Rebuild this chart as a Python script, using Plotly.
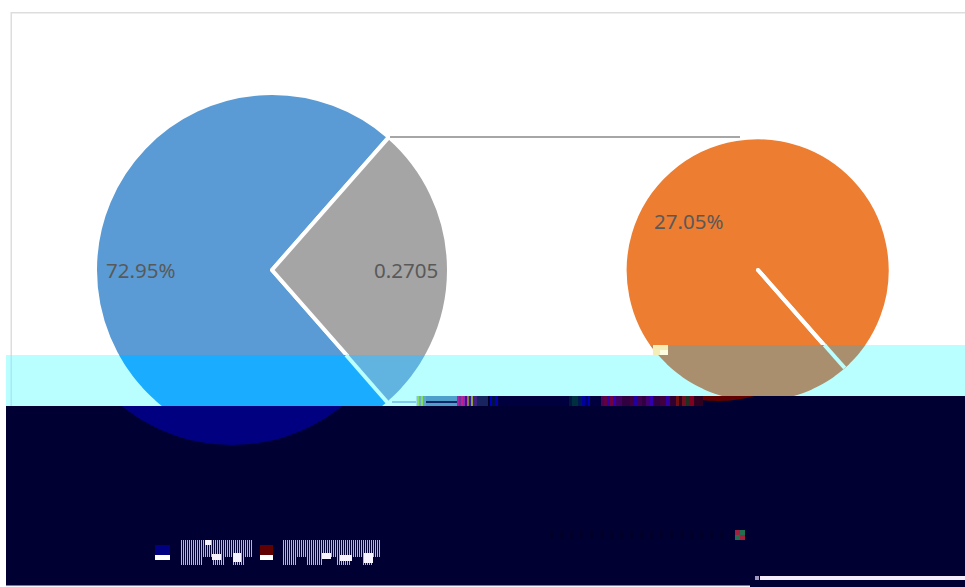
import math
import plotly.graph_objects as go

W, H = 965, 587

labels_main = ["Share A", "Share B"]
values_main = [72.95, 27.05]
labels_detail = ["Share B", "Remainder"]
values_detail = [27.05, 0.0005]
label_main_left = "72.95%"
label_main_right = "0.2705"
label_detail = "27.05%"

BLUE, GRAY, ORANGE = "#5B9BD5", "#A5A5A5", "#ED7D31"
ROTATION = 138.7

def X(x):
    return x / W

def Y(y):
    return 1 - y / H

def rect(x0, y0, x1, y1, color):
    return dict(type="rect", xref="paper", yref="paper", x0=X(x0), x1=X(x1), y0=Y(y0), y1=Y(y1),
                fillcolor=color, line_width=0, layer="above")

def line(x0, y0, x1, y1, color, w=1.5):
    return dict(type="line", xref="paper", yref="paper", x0=X(x0), x1=X(x1), y0=Y(y0), y1=Y(y1),
                line=dict(color=color, width=w), layer="above")

def outline(pts, color):
    path = "M " + " L ".join(f"{X(a):.5f},{Y(b):.5f}" for a, b in pts) + " Z"
    return dict(type="path", xref="paper", yref="paper", path=path, fillcolor=color, line_width=0, layer="above")

def segment(cx, cy, r, y0, y1, color, dx=0):
    """circle of the pie clipped to a horizontal band"""
    rows = [y0 + (y1 - y0) * i / 40 for i in range(41)]
    rows = [y for y in rows if abs(y - cy) <= r]
    left, right = [], []
    for y in rows:
        half = math.sqrt(r * r - (y - cy) ** 2)
        left.append((cx - half + dx, y))
        right.append((cx + half + dx, y))
    return outline(left + right[::-1], color)

def slice_seg(cx, cy, r, y0, y1, color, side):
    k = 115 / 132
    rows = [y0 + (y1 - y0) * i / 40 for i in range(41)]
    left, right = [], []
    for y in rows:
        if abs(y - cy) > r:
            continue
        half = math.sqrt(r * r - (y - cy) ** 2)
        b = cx + (y - cy) * k
        a0, a1 = (cx - half, min(b, cx + half)) if side == "l" else (max(b, cx - half), cx + half)
        if a1 > a0:
            left.append((a0, y))
            right.append((a1, y))
    return outline(left + right[::-1], color)

fig = go.Figure()
fig.add_trace(go.Pie(labels=labels_main, values=values_main, sort=False, direction="clockwise", rotation=ROTATION,
                     marker=dict(colors=[BLUE, GRAY], line=dict(color="white", width=4)), textinfo="none",
                     domain=dict(x=[X(95), X(449)], y=[Y(447), Y(93)]), showlegend=False, hoverinfo="skip"))
fig.add_trace(go.Pie(labels=labels_detail, values=values_detail, sort=False, direction="clockwise", rotation=ROTATION,
                     marker=dict(colors=[ORANGE, ORANGE], line=dict(color="white", width=4)), textinfo="none",
                     domain=dict(x=[X(625), X(891)], y=[Y(403), Y(137)]), showlegend=False, hoverinfo="skip"))

BAND = "#B9FFFF"
DARK = "#000033"
shapes = []
# card border
shapes.append(rect(11, 12, 965, 13.5, "#DDDDDD"))
shapes.append(rect(10.5, 12, 12, 355, "#DDDDDD"))
# connector
shapes.append(line(390, 137, 740, 137, "#A6A6A6", 2))
# cyan band
shapes.append(rect(6, 355, 653, 406, BAND))
shapes.append(rect(653, 345, 965, 396, BAND))
shapes.append(rect(10.5, 355, 12, 406, "#A8E8F8"))
# band pieces of pie 1
shapes.append(slice_seg(272, 270, 175, 355, 406, "#1AACFF", "l"))
shapes.append(slice_seg(272, 270, 175, 355, 406, "#62B4E0", "r"))
shapes.append(line(272 + 85 * 115 / 132, 355, 272 + 134 * 115 / 132, 404, BAND, 4))
# band pieces of pie 2
shapes.append(segment(758, 270, 131, 345, 396, "#AA8F6E"))
shapes.append(line(758 + 75 * 0.885, 345, 758 + 98 * 0.885, 368, BAND, 4))
shapes.append(line(392, 402, 418, 402, "#6FB8E8", 1.5))
# dark block
shapes.append(rect(6, 406, 965, 587, DARK))
shapes.append(rect(416, 396, 965, 406, DARK))
# displaced pie parts
shapes.append(segment(758, 270, 131, 396, 401, "#600000", dx=-40))
shapes.append(segment(272, 270, 175, 406, 445, "#000080", dx=-40))
# scrambled strip: x0, x1, colour
strip = [
    (416, 417, "#A0E0F0"), (417, 419, "#80E060"), (419, 421, "#70B0C0"), (421, 423, "#80E060"), (423, 426, "#60A8C0"),
    (426, 457, "#4F9FCC"), (457, 459, "#B020A0"), (459, 461, "#7030A0"), (461, 463, "#C02090"), (463, 465, "#8030B0"),
    (465, 467, "#600090"), (467, 469, "#808040"), (469, 471, "#3020A0"), (471, 473, "#90A040"), (473, 477, "#402080"),
    (477, 488, "#18245F"), (488, 490, "#000020"), (490, 492, "#0000C0"), (492, 495, "#001040"), (495, 498, "#0000B0"),
    (498, 569, "#00003E"), (569, 572, "#001840"), (572, 578, "#003040"), (578, 582, "#001850"), (582, 585, "#0000A0"),
    (585, 588, "#000060"), (588, 590, "#0000B0"), (590, 601, "#00003E"), (601, 604, "#500050"), (604, 607, "#600040"),
    (607, 610, "#3000A0"), (610, 613, "#700040"), (613, 616, "#3000B0"), (616, 622, "#400060"), (622, 630, "#300040"),
    (630, 634, "#400040"), (634, 637, "#2000A0"), (637, 642, "#400050"), (642, 646, "#300040"), (646, 650, "#400070"),
    (650, 653, "#3000B0"), (653, 660, "#300040"), (660, 666, "#400040"), (666, 670, "#3000A0"), (670, 676, "#300030"),
    (676, 679, "#701010"), (679, 682, "#300020"), (682, 686, "#701020"), (686, 690, "#203020"), (690, 694, "#800020"),
    (694, 703, "#300020"),
]
for a, b, c in strip:
    shapes.append(rect(a, 396, b, 406, c))
shapes.append(rect(426, 401, 457, 403, "#102868"))
# cream patch
shapes.append(rect(653, 345, 668, 355, "#F5EDB8"))
shapes.append(rect(660, 350, 668, 355, "#FFFDE0"))
# dim stripes and coloured tick
x = 550
while x < 735:
    shapes.append(rect(x, 530, x + 4, 540, "#00002A"))
    x += 10
shapes.append(rect(735, 530, 740, 535, "#A02040"))
shapes.append(rect(740, 530, 745, 535, "#207050"))
shapes.append(rect(735, 535, 740, 540, "#207050"))
shapes.append(rect(740, 535, 745, 540, "#A02040"))
# legend markers
shapes.append(rect(155, 545, 170, 555, "#000080"))
shapes.append(rect(155, 555, 170, 560, "#FFFFFF"))
shapes.append(rect(260, 545, 273, 555, "#600000"))
shapes.append(rect(260, 555, 273, 560, "#FFFFFF"))
# scrambled legend strokes: x0, x1, dark gaps, white blobs
for x0, x1, gaps, blobs in (
    (181, 252, [(202, 212), (224, 233), (244, 252)], [(205, 540, 211, 545), (212, 554, 221, 560), (233, 553, 241, 562)]),
    (283, 380, [(296, 306), (322, 336), (350, 362), (372, 380)], [(322, 553, 331, 559), (340, 555, 352, 561), (364, 553, 373, 563)]),
):
    x = x0
    while x < x1:
        bottom = 557 if any(a <= x < b for a, b in gaps) else 565
        shapes.append(rect(x, 540, x + 1, bottom, "#B8B4D0"))
        x += 2
    for a, t, b, u in blobs:
        shapes.append(rect(a, t, b, u, "#F6F2FF"))
# bottom lines
shapes.append(rect(760, 576, 965, 580, "#F5EEFA"))
shapes.append(rect(755, 576, 759, 580, "#A098C0"))
shapes.append(rect(6, 585.5, 750, 587, "#F5F5FA"))

TEXT = dict(family="Noto Sans", size=20.5, color="#595959")
fig.update_layout(
    width=W, height=H, margin=dict(l=0, r=0, t=0, b=0), paper_bgcolor="white", showlegend=False,
    shapes=shapes,
    annotations=[
        dict(text=label_main_left, x=X(140), y=Y(270), xref="paper", yref="paper", showarrow=False,
             xanchor="center", yanchor="middle", font=TEXT),
        dict(text=label_main_right, x=X(405.5), y=Y(270), xref="paper", yref="paper", showarrow=False,
             xanchor="center", yanchor="middle", font=TEXT),
        dict(text=label_detail, x=X(688), y=Y(221), xref="paper", yref="paper", showarrow=False,
             xanchor="center", yanchor="middle", font=TEXT),
    ],
)
fig.write_html("out.html", config=dict(displayModeBar=False), post_script="document.body.style.margin='0';")
